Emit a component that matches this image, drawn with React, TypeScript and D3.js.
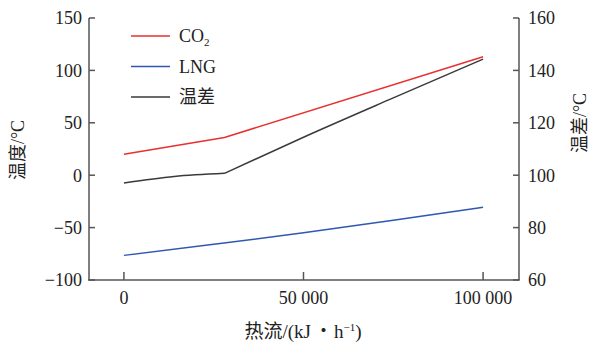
import React from "react";
import * as d3 from "d3";

// Heat flow (kJ/h) sample points
const co2Flow = [0, 28000, 100000];
const co2Temp = [20, 36, 113];

const lngFlow = [0, 25000, 50000, 75000, 100000];
const lngTemp = [-76.5, -66, -55, -43, -30.5];

const diffFlow = [0, 14000, 28000, 50000, 75000, 100000];
const diffTemp = [97, 99.5, 100.7, 114.5, 129.5, 144.3];

const xTicks = [0, 50000, 100000];
const leftTicks = [-100, -50, 0, 50, 100, 150];
const rightTicks = [60, 80, 100, 120, 140, 160];

const legendItems = [
  { key: "co2", color: "#e8302e" },
  { key: "lng", color: "#2f58b0" },
  { key: "diff", color: "#3a3a3a" },
];

const W = 591;
const H = 349;
const m = { left: 89, right: 519, top: 18, bottom: 280 };
const FONT = "'Liberation Serif', 'Times New Roman', 'Noto Sans CJK SC', serif";
const AXIS = "#555";

export default function App() {
  const x = d3.scaleLinear().domain([-10000, 110000]).range([m.left - 1, m.right]);
  const yL = d3.scaleLinear().domain([-100, 150]).range([m.bottom, m.top]);
  const yR = d3.scaleLinear().domain([60, 160]).range([m.bottom, m.top]);

  const lineL = d3
    .line<[number, number]>()
    .x((d) => x(d[0]))
    .y((d) => yL(d[1]))
    .curve(d3.curveMonotoneX);
  const lineLin = d3
    .line<[number, number]>()
    .x((d) => x(d[0]))
    .y((d) => yL(d[1]));
  const lineRCurve = d3
    .line<[number, number]>()
    .x((d) => x(d[0]))
    .y((d) => yR(d[1]))
    .curve(d3.curveNatural);
  const lineRLin = d3
    .line<[number, number]>()
    .x((d) => x(d[0]))
    .y((d) => yR(d[1]))
    .curve(d3.curveMonotoneX);

  const co2Pts = co2Flow.map((f, i) => [f, co2Temp[i]] as [number, number]);
  const lngPts = lngFlow.map((f, i) => [f, lngTemp[i]] as [number, number]);
  const diffPts = diffFlow.map((f, i) => [f, diffTemp[i]] as [number, number]);
  const diffA = diffPts.filter((d) => d[0] <= 28000);
  const diffB = diffPts.filter((d) => d[0] >= 28000);

  const tickLen = 6;
  const fs = 18;

  return (
    <svg
      width={W}
      height={H}
      style={{ position: "absolute", left: 0, top: 0, background: "#fff" }}
      fontFamily={FONT}
    >
      {/* data lines */}
      <path d={lineLin(co2Pts) || ""} fill="none" stroke={legendItems[0].color} strokeWidth={1.5} />
      <path d={lineL(lngPts) || ""} fill="none" stroke={legendItems[1].color} strokeWidth={1.5} />
      <path
        d={(lineRCurve(diffA) || "") + (lineRLin(diffB) || "")}
        fill="none"
        stroke={legendItems[2].color}
        strokeWidth={1.5}
      />

      {/* frame: left, right, bottom */}
      <g stroke={AXIS} strokeWidth={1.5} fill="none">
        <line x1={m.left} y1={m.top} x2={m.left} y2={m.bottom} />
        <line x1={m.right} y1={m.top} x2={m.right} y2={m.bottom} />
        <line x1={m.left - 1} y1={m.bottom} x2={m.right + 0.75} y2={m.bottom} />
      </g>

      {/* left ticks */}
      {leftTicks.map((t) => (
        <g key={"l" + t}>
          <line x1={m.left} x2={m.left + tickLen} y1={yL(t)} y2={yL(t)} stroke={AXIS} strokeWidth={1.5} />
          <text x={m.left - 7} y={yL(t)} dy="0.35em" textAnchor="end" fontSize={fs} fill="#222">
            {t < 0 ? "\u2212" + Math.abs(t) : t}
          </text>
        </g>
      ))}

      {/* right ticks */}
      {rightTicks.map((t) => (
        <g key={"r" + t}>
          <line x1={m.right - tickLen} x2={m.right} y1={yR(t)} y2={yR(t)} stroke={AXIS} strokeWidth={1.5} />
          <text x={m.right + 9} y={yR(t)} dy="0.35em" textAnchor="start" fontSize={fs} fill="#222">
            {t}
          </text>
        </g>
      ))}

      {/* bottom ticks */}
      {xTicks.map((t) => (
        <g key={"x" + t}>
          <line x1={x(t)} x2={x(t)} y1={m.bottom} y2={m.bottom - tickLen - 2} stroke={AXIS} strokeWidth={1.5} />
          <text x={x(t)} y={m.bottom + 24} textAnchor="middle" fontSize={fs} fill="#222">
            {t === 0 ? "0" : d3.format(",")(t).replace(",", " ")}
          </text>
        </g>
      ))}

      {/* axis titles */}
      <text x={303} y={338} textAnchor="middle" fontSize={19} fill="#222">
        热流/(kJ
        <tspan dx={3}>・</tspan>
        <tspan dx={1}>h</tspan>
        <tspan fontSize={11} dy={-7}>−1</tspan>
        <tspan dy={7}>)</tspan>
      </text>
      <text
        transform={`translate(24,${150}) rotate(-90)`}
        textAnchor="middle"
        fontSize={fs}
        fill="#222"
      >
        温度/°C
      </text>
      <text
        transform={`translate(586,${123}) rotate(-90)`}
        textAnchor="middle"
        fontSize={fs}
        fill="#222"
      >
        温差/°C
      </text>

      {/* legend */}
      {legendItems.map((it, i) => {
        const ly = 36 + i * 30.5;
        return (
          <g key={it.key}>
            <line x1={131} x2={170} y1={ly} y2={ly} stroke={it.color} strokeWidth={1.6} />
            <text x={179} y={ly} dy="0.35em" fontSize={fs} fill="#222">
              {it.key === "co2" ? (
                <>
                  CO<tspan fontSize={11} dy={4}>2</tspan>
                </>
              ) : it.key === "lng" ? (
                "LNG"
              ) : (
                "温差"
              )}
            </text>
          </g>
        );
      })}
    </svg>
  );
}
